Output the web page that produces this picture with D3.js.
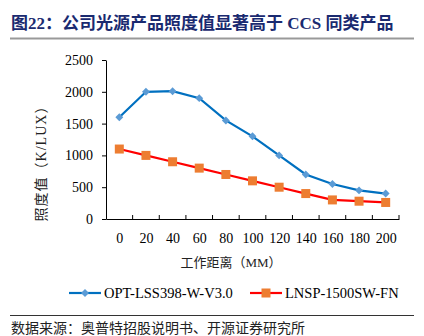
<!DOCTYPE html>
<html>
<head>
<meta charset="utf-8">
<script src="https://cdn.jsdelivr.net/npm/d3@7"></script>
<style>
body { margin: 0; background: #fff; }
text { font-family: "Liberation Serif", "Noto Sans CJK SC", serif; }
</style>
</head>
<body>
<script>
// chart data
var distances = ["0", "20", "40", "60", "80", "100", "120", "140", "160", "180", "200"];
var optValues = [1600, 2000, 2010, 1900, 1550, 1300, 1000, 700, 550, 450, 400];
var lnspValues = [1100, 1000, 900, 800, 700, 600, 500, 400, 300, 280, 260];
var yTicks = [0, 500, 1000, 1500, 2000, 2500];
var seriesNames = ["OPT-LSS398-W-V3.0", "LNSP-1500SW-FN"];

var width = 424, height = 336;

var svg = d3.select("body").append("svg")
    .attr("width", width)
    .attr("height", height);

//title
svg.append("text")
    .attr("x", 11).attr("y", 29)
    .attr("fill", "#1a2a70")
    .attr("font-weight", "bold")
    .attr("font-size", 17)
    .text("图22：公司光源产品照度值显著高于 CCS 同类产品");

svg.append("line")
    .attr("x1", 10).attr("x2", 414)
    .attr("y1", 38.5).attr("y2", 38.5)
    .attr("stroke", "#999").attr("stroke-width", 2);

//scales
var x = d3.scalePoint()
    .domain(distances)
    .range([106, 399])
    .padding(0.5);

var y = d3.scaleLinear()
    .domain([0, 2500])
    .range([219, 60]);

//y axis
var yAxis = svg.append("g")
    .attr("transform", "translate(106,0)")
    .call(d3.axisLeft(y).tickValues(yTicks).tickFormat(d3.format("d")).tickSize(4).tickSizeOuter(0));
yAxis.select(".domain").attr("stroke", "#000");
yAxis.selectAll(".tick text")
    .attr("x", -13)
    .attr("font-size", 14)
    .attr("font-family", "Liberation Serif");

//x axis, ticks between categories
var step = x.step();
var xAxis = svg.append("g")
    .attr("transform", "translate(0,219)")
    .call(d3.axisBottom(x).tickSize(0).tickSizeOuter(0));
xAxis.select(".domain").attr("stroke", "#000");
xAxis.selectAll(".tick text")
    .attr("dy", "1.5em")
    .attr("font-size", 14)
    .attr("font-family", "Liberation Serif");
xAxis.selectAll(".sep")
    .data(d3.range(1, distances.length + 1))
    .enter().append("line")
    .attr("x1", function(d){ return 106 + d * step; })
    .attr("x2", function(d){ return 106 + d * step; })
    .attr("y1", 0).attr("y2", -4)
    .attr("stroke", "#000");

//axis titles
svg.append("text")
    .attr("transform", "translate(46,160) rotate(-90)")
    .attr("text-anchor", "middle")
    .attr("font-size", 14)
    .attr("letter-spacing", 1)
    .attr("fill", "#222")
    .text("照度值（K/LUX）");

svg.append("text")
    .attr("x", 231).attr("y", 267)
    .attr("text-anchor", "middle")
    .attr("font-size", 13)
    .attr("fill", "#222")
    .text("工作距离（MM）");

//lines
var line = d3.line()
    .x(function(d, i){ return x(distances[i]); })
    .y(function(d){ return y(d); });

svg.append("path")
    .datum(optValues)
    .attr("fill", "none")
    .attr("stroke", "#0070c0")
    .attr("stroke-width", 2.2)
    .attr("d", line);

svg.selectAll(".opt")
    .data(optValues)
    .enter().append("path")
    .attr("class", "opt")
    .attr("transform", function(d, i){ return "translate(" + x(distances[i]) + "," + y(d) + ")"; })
    .attr("d", d3.symbol().type(d3.symbolDiamond2).size(40))
    .attr("fill", "#5b9bd5");

svg.append("path")
    .datum(lnspValues)
    .attr("fill", "none")
    .attr("stroke", "#ff0000")
    .attr("stroke-width", 2.2)
    .attr("d", line);

svg.selectAll(".lnsp")
    .data(lnspValues)
    .enter().append("rect")
    .attr("class", "lnsp")
    .attr("x", function(d, i){ return x(distances[i]) - 4.5; })
    .attr("y", function(d){ return y(d) - 4.5; })
    .attr("width", 9).attr("height", 9)
    .attr("fill", "#ed7d31");

//legend
var legend = [
    {name: seriesNames[0], x: 69, line: "#0070c0", mark: "#5b9bd5", type: "diamond"},
    {name: seriesNames[1], x: 250, line: "#ff0000", mark: "#ed7d31", type: "square"}
];
legend.forEach(function(l){
    svg.append("line")
        .attr("x1", l.x).attr("x2", l.x + 32)
        .attr("y1", 293).attr("y2", 293)
        .attr("stroke", l.line).attr("stroke-width", 2.2);
    if (l.type == "diamond") {
        svg.append("path")
            .attr("transform", "translate(" + (l.x + 16) + ",293)")
            .attr("d", d3.symbol().type(d3.symbolDiamond2).size(40))
            .attr("fill", l.mark);
    } else {
        svg.append("rect")
            .attr("x", l.x + 11.5).attr("y", 288.5)
            .attr("width", 9).attr("height", 9)
            .attr("fill", l.mark);
    }
    svg.append("text")
        .attr("x", l.x + 35).attr("y", 298)
        .attr("font-size", 14.5)
        .attr("font-family", "Liberation Serif")
        .text(l.name);
});

//source
svg.append("line")
    .attr("x1", 10).attr("x2", 414)
    .attr("y1", 315.5).attr("y2", 315.5)
    .attr("stroke", "#333").attr("stroke-width", 1);

svg.append("text")
    .attr("x", 11).attr("y", 333)
    .attr("font-size", 14)
    .attr("fill", "#222")
    .text("数据来源：奥普特招股说明书、开源证券研究所");
</script>
</body>
</html>
